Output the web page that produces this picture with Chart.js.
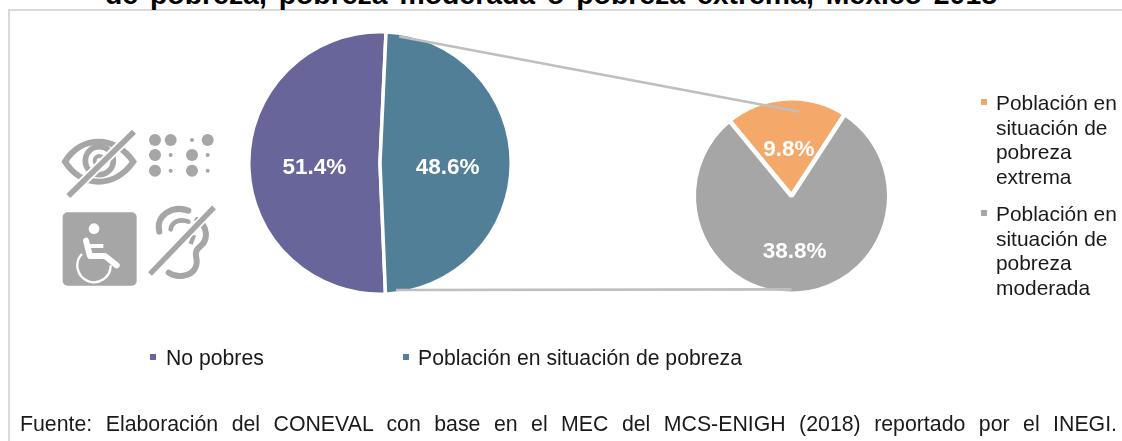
<!DOCTYPE html>
<html lang="es">
<head>
<meta charset="utf-8">
<title>Pobreza, México 2018</title>
<script src="https://cdn.jsdelivr.net/npm/chart.js@4"></script>
<style>
html,body{margin:0;padding:0;background:#fff;overflow:hidden}
body{width:1122px;height:441px;position:relative;font-family:"Liberation Sans",Arial,sans-serif;color:#1a1a1a}
#frame{position:absolute;left:8px;top:9px;width:1200px;height:500px;border:2px solid #d9d9d9;box-sizing:border-box}
#title{position:absolute;left:105px;top:-21px;width:892px;font-weight:bold;font-size:28.4px;line-height:30px;color:#000;white-space:nowrap;text-align:justify;text-align-last:justify}
canvas{position:absolute;left:0;top:0}
#icons{position:absolute;left:40px;top:120px;width:200px;height:180px}
.lg{position:absolute;font-size:20.9px;line-height:24.7px;white-space:pre}
.lg.wide{font-size:21.2px}
.mk{position:absolute;width:6px;height:6px}
#source{position:absolute;left:20px;top:411px;width:1097px;font-size:21.3px;line-height:26px;white-space:nowrap;text-align:justify;text-align-last:justify}
</style>
</head>
<body>
<div id="frame"></div>
<div id="title">de pobreza, pobreza moderada o pobreza extrema, México 2018</div>
<svg id="icons" viewBox="0 0 600 540" fill="none" stroke="#a6a6a6" stroke-width="18">
  <path d="M75,125C125,45 225,45 280,125C225,205 125,205 75,125Z"/>
  <circle cx="178" cy="122" r="42" stroke-width="17"/>
  <circle cx="178" cy="122" r="14" stroke-width="12"/>
  <line x1="85" y1="228" x2="282" y2="35" stroke="#fff" stroke-width="28"/>
  <line x1="85" y1="228" x2="282" y2="35" stroke-width="17"/>
  <g fill="#a6a6a6" stroke="none">
    <circle cx="345" cy="60" r="18"/><circle cx="392" cy="60" r="18"/><circle cx="456" cy="60" r="6"/><circle cx="503" cy="60" r="18"/>
    <circle cx="345" cy="105" r="18"/><circle cx="392" cy="105" r="6"/><circle cx="456" cy="105" r="18"/><circle cx="503" cy="105" r="6"/>
    <circle cx="345" cy="152" r="18"/><circle cx="392" cy="152" r="6"/><circle cx="456" cy="152" r="18"/><circle cx="503" cy="152" r="6"/>
    <rect x="68" y="277" width="222" height="220" rx="15"/>
  </g>
  <circle cx="162" cy="326" r="16" fill="#fff" stroke="none"/>
  <path d="M138,362L150,408L195,408L230,436" stroke="#fff" stroke-width="18" stroke-linecap="round" stroke-linejoin="round"/>
  <path d="M145,378L190,378" stroke="#fff" stroke-width="12"/>
  <path d="M126,402A50,50 0 1 0 212,436" stroke="#fff" stroke-width="7"/>
  <path d="M358,335C345,285 400,255 445,272" stroke-linecap="round"/>
  <path d="M392,328C395,305 420,295 445,305" stroke-width="14" stroke-linecap="round"/>
  <path d="M472,300C505,320 505,360 480,380C452,402 482,420 465,445C452,470 410,475 386,458" stroke-linecap="round"/>
  <path d="M462,345L452,372" stroke-width="13"/>
  <line x1="330" y1="462" x2="522" y2="262" stroke="#fff" stroke-width="26"/>
  <line x1="330" y1="462" x2="522" y2="262" stroke-width="16"/>
</svg>
<canvas id="mainPie" width="1122" height="441"></canvas>
<canvas id="subPie" width="1122" height="441"></canvas>
<div id="legends"></div>
<div id="source">Fuente: Elaboración  del CONEVAL  con base en el MEC  del MCS-ENIGH  (2018) reportado por el INEGI.</div>
<script>
const mainCategories = ["No pobres", "Población en situación de pobreza"];
const mainValues = [51.4, 48.6];
const mainColors = ["#67659a", "#517f98"];
const subCategories = [["Población en","situación de","pobreza","extrema"], ["Población en","situación de","pobreza","moderada"]];
const subValues = [9.8, 38.8];
const subColors = ["#f4a96a", "#a6a6a6"];

const LABEL_FONT = 'bold 22.5px "Liberation Sans", Arial, sans-serif';

function polar(arc, angleDeg, ratio) {
  const a = (angleDeg - 90) * Math.PI / 180;
  const r = arc.outerRadius * ratio;
  return [arc.x + r * Math.cos(a), arc.y + r * Math.sin(a)];
}

const valueLabels = {
  id: 'valueLabels',
  afterDatasetsDraw(chart, args, opts) {
    const ctx = chart.ctx, arcs = chart.getDatasetMeta(0).data;
    ctx.save();
    ctx.font = LABEL_FONT;
    ctx.fillStyle = '#ffffff';
    ctx.textAlign = 'center';
    ctx.textBaseline = 'middle';
    arcs.forEach((arc, i) => {
      const mid = (arc.startAngle + arc.endAngle) / 2;
      const r = arc.outerRadius * opts.ratios[i];
      ctx.fillText(chart.data.datasets[0].data[i].toFixed(1) + '%',
        arc.x + r * Math.cos(mid), arc.y + r * Math.sin(mid) + opts.dy);
    });
    ctx.restore();
  }
};

const connectors = {
  id: 'connectors',
  afterDatasetsDraw(chart) {
    const ctx = chart.ctx;
    const big = mainChart.getDatasetMeta(0).data[0];
    const small = chart.getDatasetMeta(0).data[0];
    const segs = [
      [polar(big, 8.6, 0.975), polar(small, 5.5, 0.865)],
      [polar(big, 172.8, 0.975), polar(small, 180, 0.955)]
    ];
    ctx.save();
    ctx.strokeStyle = '#bfbfbf';
    ctx.lineWidth = 2.6;
    segs.forEach(([a, b]) => {
      ctx.beginPath();
      ctx.moveTo(a[0], a[1]);
      ctx.lineTo(b[0], b[1]);
      ctx.stroke();
    });
    ctx.restore();
  }
};

function pieOptions(rotation, padding, ratios, dy) {
  return {
    responsive: false,
    animation: false,
    rotation,
    layout: { padding },
    plugins: {
      legend: { display: false },
      tooltip: { enabled: false },
      title: { display: false },
      valueLabels: { ratios, dy }
    }
  };
}

const mainChart = new Chart(document.getElementById('mainPie'), {
  type: 'pie',
  data: { labels: mainCategories, datasets: [{ data: mainValues, backgroundColor: mainColors, borderColor: '#fff', borderWidth: 3.5 }] },
  options: pieOptions(177.6, { left: 247, right: 609, top: 30, bottom: 145 }, [0.5, 0.515], 5),
  plugins: [valueLabels]
});

const subChart = new Chart(document.getElementById('subPie'), {
  type: 'pie',
  data: { labels: subCategories.map(l => l.join(' ')), datasets: [{ data: subValues, backgroundColor: subColors, borderColor: '#fff', borderWidth: 4.5 }] },
  options: pieOptions(-39.5, { left: 691, right: 230, top: 96, bottom: 145 }, [0.47, 0.57], 0),
  plugins: [connectors, valueLabels]
});

const legends = document.getElementById('legends');
function addLegend(text, color, mx, my, tx, ty, wide) {
  const m = document.createElement('div');
  m.className = 'mk';
  m.style.cssText = `left:${mx}px;top:${my}px;background:${color}`;
  const t = document.createElement('div');
  t.className = wide ? 'lg wide' : 'lg';
  t.style.cssText = `left:${tx}px;top:${ty}px`;
  t.textContent = text;
  legends.append(m, t);
}
addLegend(mainCategories[0], mainColors[0], 150, 354, 166, 346, true);
addLegend(mainCategories[1], mainColors[1], 403, 354, 418, 346, true);
addLegend(subCategories[0].join('\n'), subColors[0], 981, 99, 996, 91);
addLegend(subCategories[1].join('\n'), subColors[1], 981, 210, 996, 202);
</script>
</body>
</html>
